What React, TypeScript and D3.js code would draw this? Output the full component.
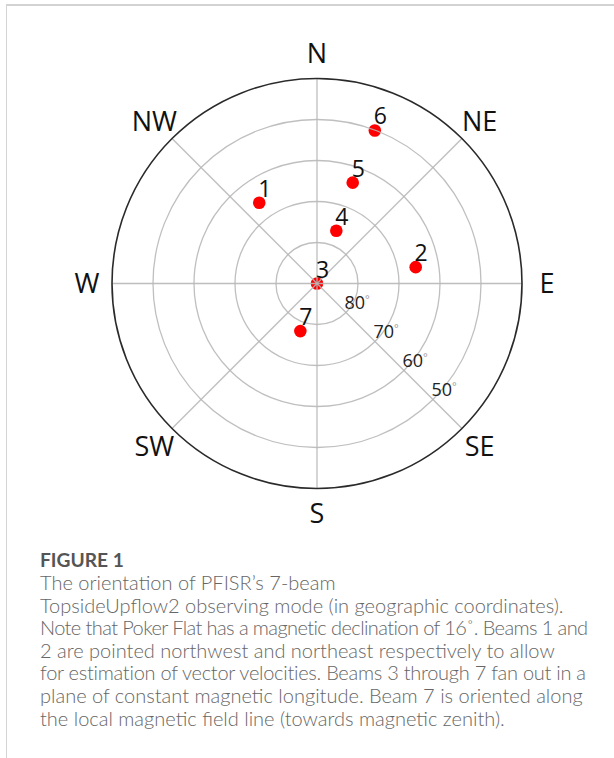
import React from 'react';
import * as d3 from 'd3';

const beamLabels = ['1', '2', '3', '4', '5', '6', '7'];
const beamAzimuths = [324.4, 80.6, 0, 20.1, 19.5, 20.7, 199.3];
const beamElevations = [65.8, 65.6, 90, 76.3, 63.9, 50.1, 77.7];

const ringElevations = [80, 70, 60, 50];
const outerElevation = 40;
const compassLabels = ['N', 'NE', 'E', 'SE', 'S', 'SW', 'W', 'NW'];
const compassAngles = [0, 45, 90, 135, 180, 225, 270, 315];

const captionTitle = 'FIGURE 1';
const captionLines = [
  'The orientation of PFISR\u2019s 7-beam',
  'TopsideUpflow2 observing mode (in geographic coordinates).',
  'Note that Poker Flat has a magnetic declination of 16\u02DA. Beams 1 and',
  '2 are pointed northwest and northeast respectively to allow',
  'for estimation of vector velocities. Beams 3 through 7 fan out in a',
  'plane of constant magnetic longitude. Beam 7 is oriented along',
  'the local magnetic field line (towards magnetic zenith).',
];

const W = 614;
const H = 758;
const cx = 317;
const cy = 283.5;
const R = 205;
const capFont = "Lato, 'Open Sans', sans-serif";

function measure(text: string, font: string): number {
  const c = document.createElement('canvas');
  const ctx = c.getContext('2d');
  if (!ctx) return text.length * 8.5;
  ctx.font = font;
  return ctx.measureText(text).width;
}

export default function App() {
  const r = d3.scaleLinear().domain([90, outerElevation]).range([0, R]);
  const pt = (az: number, rad: number) => {
    const a = (az * Math.PI) / 180;
    return [cx + rad * Math.sin(a), cy - rad * Math.cos(a)];
  };
  const gridColor = '#b8b8b8';
  const font = "'Open Sans', 'DejaVu Sans', sans-serif";
  const capFs = 27;

  const base = measure(captionLines[1], `300 17px ${capFont}`);
  const capSize = Math.min(20, Math.max(14, (17 * 538) / base));
  const maxW = 549;

  return (
    <svg width={W} height={H} style={{ position: 'absolute', left: 0, top: 0, display: 'block' }}>
      <rect x={0} y={0} width={W} height={H} fill="#fff" />
      <line x1={6} y1={5} x2={W} y2={5} stroke="#c4c4c4" strokeWidth={1.5} />
      <line x1={6.5} y1={5} x2={6.5} y2={H} stroke="#d4d4d4" strokeWidth={1} />

      {beamLabels.map((b, i) => {
        const [x, y] = pt(beamAzimuths[i], r(beamElevations[i]));
        return <circle key={'d' + b} cx={x} cy={y} r={6.3} fill="#ff0000" />;
      })}

      {ringElevations.map((e) => (
        <circle key={'r' + e} cx={cx} cy={cy} r={r(e)} fill="none" stroke={gridColor} strokeWidth={1.3} opacity={0.9} />
      ))}
      {compassAngles.map((a) => {
        const [x, y] = pt(a, R);
        return <line key={'s' + a} x1={cx} y1={cy} x2={x} y2={y} stroke={gridColor} strokeWidth={1.3} opacity={0.9} />;
      })}
      <circle cx={cx} cy={cy} r={R} fill="none" stroke="#2a2a2a" strokeWidth={1.6} />

      {ringElevations.map((e) => {
        const d = r(e) / Math.SQRT2;
        return (
          <text key={'rl' + e} x={cx + d - 1.5} y={cy + d - 3} fontFamily={font} fontSize={18} fill="#222">
            {e}
            <tspan fontSize={11} fill="#999" dy={-6}>{'\u00B0'}</tspan>
          </text>
        );
      })}

      {beamLabels.map((b, i) => {
        const [x, y] = pt(beamAzimuths[i], r(beamElevations[i]));
        return (
          <text key={'l' + b} x={x + 5.5} y={y - 6} textAnchor="middle" fontFamily={font} fontSize={23} fill="#111">
            {b}
          </text>
        );
      })}

      {compassLabels.map((c, i) => {
        const [x, y] = pt(compassAngles[i], 230);
        return (
          <text key={'c' + c} x={x} y={y + capFs * 0.357} textAnchor="middle" fontFamily={font} fontSize={capFs} fill="#111">
            {c}
          </text>
        );
      })}

      <text x={40} y={567} fontFamily={capFont} fontWeight={700} fontSize={capSize * 0.96} fill="#555">
        {captionTitle}
      </text>
      {captionLines.map((l, i) => {
        const nat = measure(l, `300 ${capSize}px ${capFont}`);
        const ls = nat > maxW ? (maxW - nat) / l.length : 0;
        return (
          <text key={'cap' + i} x={40} y={590 + i * 22.6} fontFamily={capFont} fontWeight={300} fontSize={capSize}
            fill="#666" letterSpacing={ls}>
            {l}
          </text>
        );
      })}
    </svg>
  );
}
